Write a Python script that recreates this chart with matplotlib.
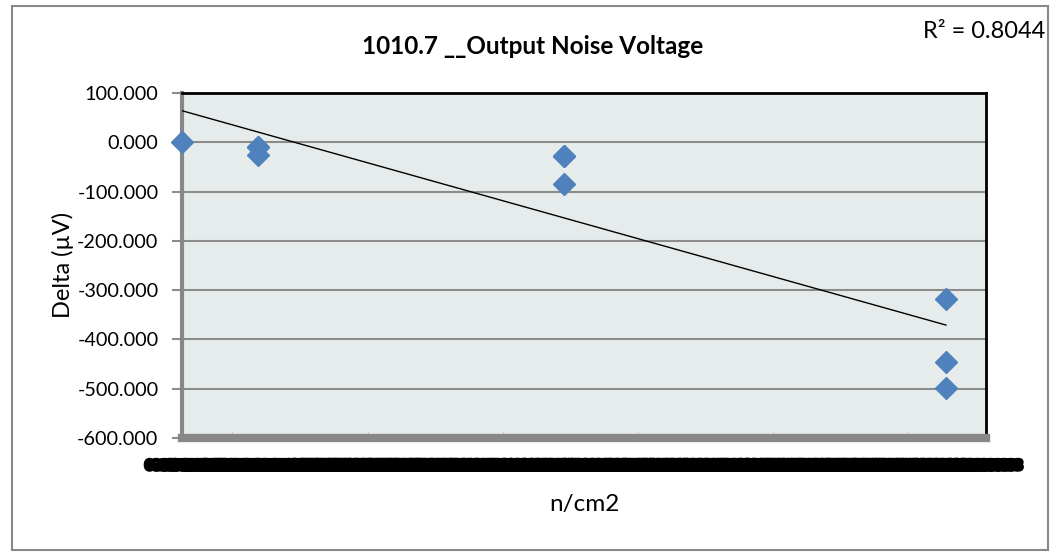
import numpy as np
import matplotlib
matplotlib.use('Agg')
import matplotlib.pyplot as plt
import matplotlib.patheffects as pe
from matplotlib.patches import Rectangle

plt.rcParams['font.family'] = ['Lato', 'DejaVu Sans']

# fluence (n/cm2) and delta (uV)
fluence = [0, 1e12, 1e12, 1e12, 5e12, 5e12, 5e12, 1e13, 1e13, 1e13]
delta = [0, -10, -10, -25, -28, -28, -84, -318, -445, -499]
r2_text = 'R² = 0.8044'
title = '1010.7 __Output Noise Voltage'
y_ticks = [100, 0, -100, -200, -300, -400, -500, -600]

fig = plt.figure(figsize=(10.56, 5.58), dpi=100)
ax = fig.add_axes([182/1056, 120/558, 804/1056, 345/558])
ax.set_facecolor('#E6ECEC')

x = np.array(fluence)
y = np.array(delta)
ax.plot(x, y, linestyle='none', marker='D', markersize=11, color='#4F81BD', zorder=4, clip_on=False)

# linear trend line
k, b = np.polyfit(x, y, 1)
xs = np.array([x.min(), x.max()])
ax.plot(xs, k*xs + b, color='black', lw=1, zorder=3)

xmax = 1.0524e13
ax.set_xlim(0, xmax)
ax.set_ylim(-600, 100)
ax.set_yticks(y_ticks)
ax.set_yticklabels(['{:.3f}'.format(v) for v in y_ticks], fontsize=14.3)
ax.yaxis.grid(True, color='#8C8C8C', lw=1.5)
ax.set_axisbelow(True)

# major ticks without labels, then a dense row of labels that piles up into a black band
ax.set_xticks(np.array([0.655, 2.43, 4.2, 5.97, 7.73, 9.5]) * 1e12)
ax.set_xticklabels([])
lab_pos = np.linspace(0, xmax, 120)
ax.set_xticks(lab_pos, ['{:.2E}'.format(p) for p in lab_pos], minor=True)
ax.tick_params(axis='x', which='minor', length=0, pad=15, labelsize=10)
for t in ax.get_xticklabels(minor=True):
    t.set_fontweight('bold')
    t.set_family(['DejaVu Sans'])
    t.set_path_effects([pe.withStroke(linewidth=2.5, foreground='black')])
ax.tick_params(axis='x', which='major', length=5, color='#D0D0D0', direction='in')
ax.tick_params(axis='y', length=7, color='#8C8C8C', width=1.5, pad=10)

for s in ['top', 'right']:
    ax.spines[s].set_color('black')
    ax.spines[s].set_linewidth(2)
ax.spines['left'].set_color('#888888')
ax.spines['left'].set_linewidth(3)
ax.spines['bottom'].set_color('#888888')
ax.spines['bottom'].set_linewidth(6)

fig.text(63/1056, 1 - 265/558, 'Delta (µV)', fontsize=17, rotation=90, ha='center', va='center')
fig.text(584/1056, 1 - 505/558, 'n/cm2', fontsize=17.5, ha='center', va='center')
fig.text(533/1056, 1 - 47/558, title, fontsize=17.5, fontweight='bold', ha='center', va='center')
fig.text(1045/1056, 1 - 32/558, r2_text, fontsize=17, ha='right', va='center')

fig.patches.append(Rectangle((12/1056, 8/558), 1036/1056, 544/558, transform=fig.transFigure,
                             fill=False, edgecolor='#888888', lw=1.5))

fig.savefig('out.png', dpi=100)
